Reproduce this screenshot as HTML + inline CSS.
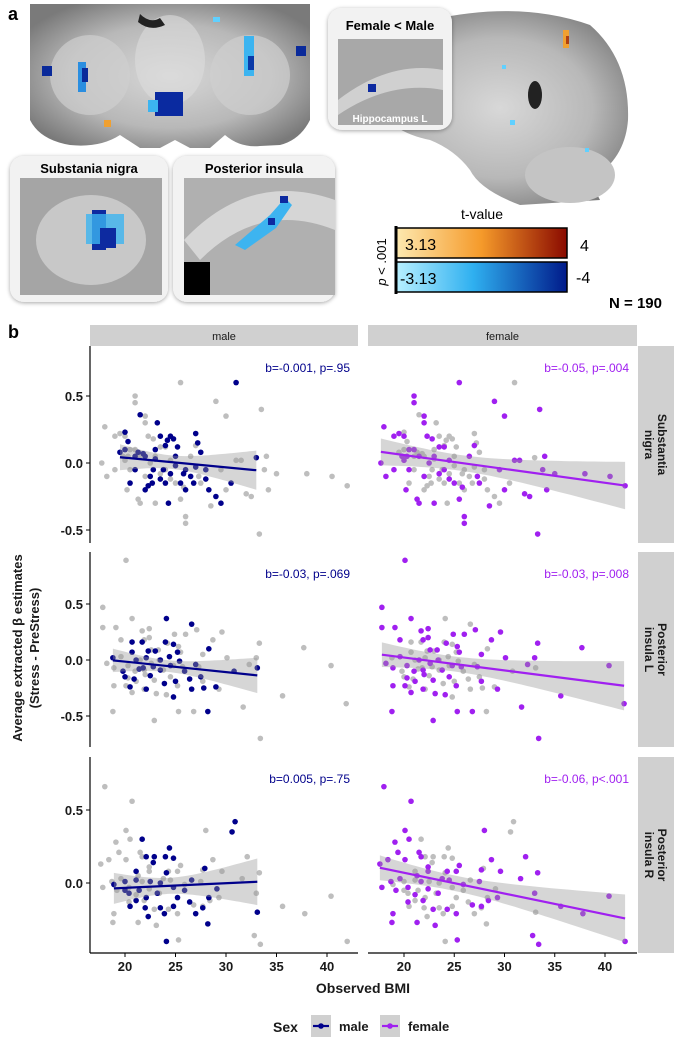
<!DOCTYPE html>
<html><head><meta charset="utf-8"><style>
html,body{margin:0;padding:0;background:#fff}
svg{display:block;font-family:"Liberation Sans",Arial,sans-serif}
</style></head><body>
<svg id="fig" width="675" height="1040" viewBox="0 0 675 1040" xmlns="http://www.w3.org/2000/svg">
<defs>
<radialGradient id="brainG" cx="50%" cy="50%" r="60%"><stop offset="0" stop-color="#d8d8d8"/><stop offset="0.6" stop-color="#b8b8b8"/><stop offset="1" stop-color="#7a7a7a"/></radialGradient>
<linearGradient id="hotG" x1="0" x2="1"><stop offset="0" stop-color="#fde9b0"/><stop offset="0.5" stop-color="#f59a2a"/><stop offset="1" stop-color="#8a0a00"/></linearGradient>
<linearGradient id="coldG" x1="0" x2="1"><stop offset="0" stop-color="#b8f0ff"/><stop offset="0.45" stop-color="#2fb0f0"/><stop offset="1" stop-color="#001a8a"/></linearGradient>
<filter id="sh" x="-10%" y="-10%" width="120%" height="120%"><feGaussianBlur in="SourceAlpha" stdDeviation="2"/><feOffset dy="1"/><feComponentTransfer><feFuncA type="linear" slope="0.35"/></feComponentTransfer><feMerge><feMergeNode/><feMergeNode in="SourceGraphic"/></feMerge></filter>
</defs>

<!-- Panel a -->
<g>
<text x="8" y="20" font-size="18" font-weight="bold">a</text>
<g>
<path d="M30,4 L310,4 L310,120 Q300,140 280,145 L260,146 Q240,148 225,135 L210,148 L190,148 L175,140 L160,148 L140,148 L120,135 Q100,148 70,145 Q40,140 30,120 Z" fill="url(#brainG)"/>
<ellipse cx="90" cy="75" rx="40" ry="40" fill="#cfcfcf" opacity="0.7"/>
<ellipse cx="250" cy="75" rx="40" ry="40" fill="#cfcfcf" opacity="0.7"/>
<ellipse cx="170" cy="60" rx="35" ry="45" fill="#dcdcdc" opacity="0.6"/>
<path d="M140,14 Q150,24 160,18 L165,25 Q150,32 138,22 Z" fill="#222"/>
<rect x="78" y="62" width="8" height="30" fill="#2a8ee0"/><rect x="82" y="68" width="6" height="14" fill="#0a2a9a"/>
<rect x="42" y="66" width="10" height="10" fill="#0a2a9a"/>
<rect x="244" y="36" width="10" height="40" fill="#3cb4f0"/><rect x="248" y="56" width="6" height="14" fill="#0a3aa8"/>
<rect x="296" y="46" width="10" height="10" fill="#0a2a9a"/>
<rect x="155" y="92" width="28" height="24" fill="#0a2aa0"/><rect x="148" y="100" width="10" height="12" fill="#3cb4f0"/>
<rect x="104" y="120" width="7" height="7" fill="#f0a030"/>
<rect x="213" y="17" width="7" height="5" fill="#60d0ff"/>
</g>
<g>
<path d="M430,20 Q520,0 590,25 Q630,60 628,120 Q625,160 590,180 L600,200 L520,205 Q480,190 470,170 Q455,150 430,140 Q380,130 372,90 Q375,40 430,20 Z" fill="url(#brainG)"/>
<ellipse cx="570" cy="175" rx="45" ry="28" fill="#c4c4c4"/>
<ellipse cx="535" cy="95" rx="7" ry="14" fill="#222"/>
<rect x="563" y="30" width="6" height="18" fill="#f0a030"/><rect x="566" y="36" width="3" height="8" fill="#b04010"/>
<rect x="502" y="65" width="4" height="4" fill="#60d0ff"/><rect x="510" y="120" width="5" height="5" fill="#60d0ff"/><rect x="585" y="148" width="4" height="4" fill="#60d0ff"/>
</g>
<g filter="url(#sh)">
<rect x="328" y="8" width="124" height="122" rx="14" fill="#f2f2f2"/>
<rect x="338" y="39" width="105" height="86" fill="#a8a8a8"/>
<path d="M338,100 Q390,60 443,70 L443,90 Q390,80 338,115 Z" fill="#d0d0d0"/>
<rect x="368" y="84" width="8" height="8" fill="#0a2aa0"/>
<text x="390" y="30" font-size="13" font-weight="bold" text-anchor="middle">Female &lt; Male</text>
<text x="390" y="122" font-size="10" font-weight="bold" fill="#fff" text-anchor="middle">Hippocampus L</text>
</g>
<g filter="url(#sh)">
<rect x="10" y="156" width="158" height="146" rx="14" fill="#f2f2f2"/>
<rect x="20" y="178" width="142" height="117" fill="#a5a5a5"/>
<ellipse cx="91" cy="240" rx="55" ry="45" fill="#c8c8c8"/>
<rect x="92" y="210" width="14" height="40" fill="#0a2aa0"/><rect x="86" y="214" width="38" height="30" fill="#3cb4f0" opacity="0.8"/><rect x="100" y="228" width="16" height="20" fill="#0a2aa0"/>
<text x="89" y="173" font-size="13" font-weight="bold" text-anchor="middle">Substania nigra</text>
</g>
<g filter="url(#sh)">
<rect x="173" y="156" width="162" height="146" rx="14" fill="#f2f2f2"/>
<rect x="184" y="178" width="151" height="117" fill="#b0b0b0"/>
<path d="M184,240 Q250,170 335,200 L335,230 Q260,200 200,260 Z" fill="#d6d6d6"/>
<rect x="184" y="262" width="26" height="33" fill="#000"/>
<path d="M235,245 L270,215 L285,198 L292,205 L276,228 L245,250 Z" fill="#3cb4f0"/>
<rect x="280" y="196" width="8" height="7" fill="#0a2aa0"/><rect x="268" y="218" width="7" height="7" fill="#0a2aa0"/>
<text x="254" y="173" font-size="13" font-weight="bold" text-anchor="middle">Posterior insula</text>
</g>
<g>
<text x="482" y="219" font-size="14" text-anchor="middle">t-value</text>
<rect x="396" y="228" width="171" height="30" fill="url(#hotG)" stroke="#000" stroke-width="1.5"/>
<rect x="396" y="262" width="171" height="30" fill="url(#coldG)" stroke="#000" stroke-width="1.5"/>
<line x1="396" y1="226" x2="396" y2="294" stroke="#000" stroke-width="3"/>
<text x="405" y="250" font-size="16">3.13</text>
<text x="400" y="284" font-size="16">-3.13</text>
<text x="580" y="251" font-size="16">4</text>
<text x="576" y="283" font-size="16">-4</text>
<text transform="translate(386,262) rotate(-90)" font-size="13" text-anchor="middle"><tspan font-style="italic">p</tspan> &lt; .001</text>
<text x="662" y="308" font-size="15" font-weight="bold" text-anchor="end">N = 190</text>
</g>
</g>

<!-- Panel b -->
<text x="8" y="338" font-size="18" font-weight="bold">b</text>
<g id="chart"></g>
</svg>
<script>
// ---- data (BMI, beta) per region row ----
const rowNames = ["Substantia\nnigra","Posterior\ninsula L","Posterior\ninsula R"];
const sexes = ["male","female"];
const xTicks = [20,25,30,35,40];
const yTicks = [[0.5,0,-0.5],[0.5,0,-0.5],[0.5,0]];
const statLabels = [["b=-0.001, p=.95","b=-0.05, p=.004"],["b=-0.03, p=.069","b=-0.03, p=.008"],["b=0.005, p=.75","b=-0.06, p<.001"]];

const maleBMI1 = [19.5,20,20.3,21.5,20.5,21,21.3,21.8,22,22.3,22.5,23,23.2,23.5,23.8,24,24.2,24.5,24.8,25,25.2,25.5,26,26.5,27,27.2,27.5,28,28.3,29,29.5,30.5,31,33,22.8,23.5,24,24.5,25.8,26.8,22,21,20,23,25,26,27,28,24.3,22.7];
const maleBeta1 = [0.08,0.23,0.16,0.36,-0.15,0.05,0.08,0.07,-0.2,-0.17,-0.1,0.03,0.3,0.2,-0.05,0.13,0.17,0.2,0.18,-0.02,0.12,-0.15,-0.2,-0.1,0.22,0.15,0.08,-0.12,-0.2,-0.25,-0.3,-0.15,0.6,0.04,-0.05,-0.12,-0.15,-0.08,-0.08,-0.15,0.05,-0.05,0.1,0.1,0.05,-0.05,-0.03,-0.05,-0.3,-0.15];
const femaleBMI1 = [17.7,18,18.2,19,19.5,20,20.5,21,21,20.3,19.8,20.2,21.3,21.5,22,22,22.3,22.8,23,23.5,24,24.5,25,25.5,25.5,25.8,26,26,27,27.3,27.5,28.5,29,29.5,30,30,31,31.5,32,32.5,33.3,33.5,33.8,34,34.2,35,38,40.5,42,21.5,22.5,23,24,20.5,19,22,23.5,24.5,26.5,21,20];
const femaleBeta1 = [0,0.27,-0.1,0.2,0.22,0.2,0.1,0.5,0.45,0.05,0.05,-0.2,-0.27,-0.3,0.35,0.3,0.2,0.18,-0.3,0.12,0.12,-0.12,-0.15,0.6,-0.27,-0.18,-0.4,-0.45,0.13,-0.1,-0.15,-0.32,0.46,-0.05,0.35,-0.2,0.02,0.02,-0.23,-0.25,-0.53,0.4,-0.05,0.05,-0.2,-0.08,-0.08,-0.1,-0.17,0.05,0,0.05,-0.05,-0.05,-0.05,-0.1,-0.08,0.02,0.05,0.1,0.02];

const maleBMI2 = [24.1,26.6,20.7,21.7,24.0,24.8,28.3,20.7,23.0,24.4,18.8,21.1,22.1,23.5,25.4,27.0,30.8,33.1,20.0,20.9,22.5,23.9,25.0,26.4,27.5,20.5,22.1,24.8,26.6,27.8,29.0,28.2,21.8,22.8,24.5,25.9,19.8,21.4,25.2,22.3,23.5];
const maleBeta2 = [0.37,0.32,0.16,0.16,0.16,0.14,0.1,0.07,0.08,0.03,0.02,0,0.02,0,-0.01,-0.04,-0.1,-0.07,-0.15,-0.17,-0.14,-0.21,-0.19,-0.17,-0.15,-0.24,-0.26,-0.33,-0.26,-0.25,-0.24,-0.46,-0.07,-0.06,-0.05,-0.1,-0.1,-0.08,0.07,0.08,-0.09];
const femaleBMI2 = [20.1,17.8,20.7,17.8,19.1,21.7,22.4,24.9,26.0,27.1,29.6,28.7,19.6,21.9,22.4,24.2,25.3,33.3,37.7,30.1,33.0,40.4,41.9,35.6,31.7,33.4,22.9,25.3,26.8,18.8,29.3,24.1,20.7,21.9,23.1,18.9,20.1,25.2,27.7,32.3,27.7,25.5,18.2,18.9,19.6,20.3,21.0,21.5,22.0,22.6,22.9,23.4,23.8,24.5,24.8,25.7,20.3,21.1,21.9,23.3,22.6,27.3];
const femaleBeta2 = [0.89,0.47,0.37,0.29,0.29,0.26,0.28,0.23,0.23,0.27,0.25,0.18,0.18,0.18,0.2,0.15,0.12,0.15,0.11,0.02,0.02,-0.05,-0.39,-0.32,-0.42,-0.7,-0.54,-0.46,-0.46,-0.46,-0.26,-0.31,-0.29,-0.26,-0.3,-0.23,-0.23,-0.23,-0.19,-0.04,0.05,0.07,-0.03,-0.07,0.03,-0.05,-0.1,0,-0.13,-0.03,-0.18,0,-0.09,-0.15,-0.05,-0.06,-0.16,-0.19,-0.09,0.09,0.09,-0.06];

const maleBMI3 = [30.9,30.6,21.7,22.1,22.9,24.0,24.8,22.8,24.4,27.9,21.1,24.1,26.6,29.1,33.1,28.2,24.1,22.3,23.9,27.0,20.5,22.0,23.5,24.8,27.7,21.1,22.1,25.2,26.4,28.3,18.9,20.0,21.1,22.5,23.5,24.8,20.0,21.4,23.2,25.9,20.4];
const maleBeta3 = [0.42,0.35,0.3,0.18,0.18,0.18,0.17,0.14,0.24,0.1,0.08,0.07,0.02,-0.04,-0.2,-0.28,-0.4,-0.23,-0.21,-0.21,-0.16,-0.17,-0.17,-0.16,-0.17,-0.12,-0.1,-0.1,-0.13,-0.1,-0.01,0.01,0.02,0.01,0,-0.03,-0.05,-0.05,-0.07,-0.05,-0.07];
const femaleBMI3 = [18.0,20.7,20.1,20.5,28.0,19.1,19.4,21.5,21.7,20.1,22.4,17.6,18.4,32.1,28.7,29.6,33.3,31.6,27.7,25.5,25.2,24.3,27.5,25.9,40.4,33.0,35.6,37.8,42.0,33.4,32.8,25.3,18.8,18.9,21.3,23.1,28.4,26.8,25.2,24.3,22.9,21.9,20.4,21.1,17.8,18.7,19.6,20.4,22.4,23.4,24.5,21.7,21.3,23.8,29.3,27.7,22.4,19.2];
const femaleBeta3 = [0.66,0.56,0.36,0.3,0.36,0.28,0.21,0.21,0.18,0.16,0.08,0.13,0.16,0.18,0.16,0.08,0.07,0.03,0.09,0.12,0.08,0.08,0.01,-0.01,-0.09,-0.07,-0.16,-0.21,-0.4,-0.42,-0.36,-0.39,-0.27,-0.21,-0.27,-0.29,-0.12,-0.15,-0.21,-0.18,-0.18,-0.12,-0.13,-0.08,-0.03,0.01,0.03,-0.03,-0.04,-0.07,0.02,0.01,0.05,0.03,-0.1,-0.16,0.11,-0.05];

const dataBMI = [[maleBMI1,femaleBMI1],[maleBMI2,femaleBMI2],[maleBMI3,femaleBMI3]];
const dataBeta = [[maleBeta1,femaleBeta1],[maleBeta2,femaleBeta2],[maleBeta3,femaleBeta3]];

// ---- layout ----
const NS="http://www.w3.org/2000/svg";
const chart=document.getElementById('chart');
const colors=["#00008b","#a020f0"];
const rowsL=[{top:346,bot:543,zero:463,ppu:134},{top:552,bot:747,zero:660,ppu:112},{top:757,bot:953,zero:883,ppu:146}];
const cols=[{x0:90,x1:358,a:125,ppu:10.1},{x0:368,x1:637,a:404,ppu:10.05}];
function xs(c,v){return cols[c].a+(v-20)*cols[c].ppu;}
function ys(r,v){return rowsL[r].zero-v*rowsL[r].ppu;}
function mk(tag,attrs,parent){const e=document.createElementNS(NS,tag);for(const k in attrs)e.setAttribute(k,attrs[k]);(parent||chart).appendChild(e);return e;}

// strips top
sexes.forEach((s,c)=>{
  const g=mk('g',{});
  
  
  mk('rect',{x:cols[c].x0,y:325,width:cols[c].x1-cols[c].x0,height:21,fill:'#d0d0d0'},g);
  const t=mk('text',{x:(cols[c].x0+cols[c].x1)/2,y:340,'font-size':11,'text-anchor':'middle',fill:'#1a1a1a'},g);
  t.textContent=s;
});

rowsL.forEach((R,r)=>{
  // right strip
  const sg=mk('g',{});
  
  
  mk('rect',{x:638,y:R.top,width:36,height:R.bot-R.top,fill:'#d0d0d0'},sg);
  const lines=rowNames[r].split('\n');
  const cy=(R.top+R.bot)/2;
  lines.forEach((ln,i)=>{
    const t=mk('text',{transform:`translate(${652-i*13+6},${cy}) rotate(90)`,'font-size':12,'font-weight':'bold','text-anchor':'middle',fill:'#1a1a1a'},sg);
    t.textContent=ln;
  });
  // y axis
  const ax=mk('g',{});
  
  
  mk('line',{x1:90,y1:R.top,x2:90,y2:R.bot,stroke:'#000','stroke-width':1.2},ax);
  yTicks[r].forEach(v=>{
    const y=ys(r,v);
    mk('line',{x1:86,y1:y,x2:90,y2:y,stroke:'#000'},ax);
    const t=mk('text',{x:83,y:y+5,'font-size':13,'font-weight':'bold','text-anchor':'end',fill:'#1a1a1a'},ax);
    t.textContent=v.toFixed(1);
  });
  cols.forEach((C,c)=>{
    const pg=mk('g',{});
    
    
    const other=1-c;
    // gray points of other sex
    dataBMI[r][other].forEach((b,i)=>{
      const p=mk('circle',{cx:xs(c,b),cy:ys(r,dataBeta[r][other][i]),r:2.8,fill:'#bebebe'},pg);
      
      
    });
    const X=dataBMI[r][c],Y=dataBeta[r][c];
    X.forEach((b,i)=>{
      const p=mk('circle',{cx:xs(c,b),cy:ys(r,Y[i]),r:2.8,fill:colors[c]},pg);
      
      
    });
    // OLS fit
    const n=X.length,mx=X.reduce((a,b)=>a+b)/n,my=Y.reduce((a,b)=>a+b)/n;
    let sxx=0,sxy=0;X.forEach((x,i)=>{sxx+=(x-mx)**2;sxy+=(x-mx)*(Y[i]-my);});
    const slope=sxy/sxx,ic=my-slope*mx;
    let sse=0;X.forEach((x,i)=>{sse+=(Y[i]-ic-slope*x)**2;});
    const s=Math.sqrt(sse/(n-2));
    const xmin=Math.min(...X),xmax=Math.max(...X);
    const up=[],lo=[];
    for(let k=0;k<=40;k++){
      const x=xmin+(xmax-xmin)*k/40;
      const hw=1.98*s*Math.sqrt(1/n+(x-mx)**2/sxx);
      const f=ic+slope*x;
      up.push(xs(c,x).toFixed(1)+','+ys(r,f+hw).toFixed(1));
      lo.unshift(xs(c,x).toFixed(1)+','+ys(r,f-hw).toFixed(1));
    }
    const band=mk('polygon',{points:up.concat(lo).join(' '),fill:'#999','fill-opacity':0.4},pg);
    
    
    const ln=mk('line',{x1:xs(c,xmin),y1:ys(r,ic+slope*xmin),x2:xs(c,xmax),y2:ys(r,ic+slope*xmax),stroke:colors[c],'stroke-width':2.2},pg);
    
    
    const st=mk('text',{x:C.x1-8,y:R.top+26,'font-size':12,'text-anchor':'end',fill:colors[c]},pg);
    
    
    st.textContent=statLabels[r][c];
  });
});

// x axes
cols.forEach((C,c)=>{
  const ax=mk('g',{});
  
  
  mk('line',{x1:C.x0,y1:953,x2:C.x1,y2:953,stroke:'#000','stroke-width':1.2},ax);
  xTicks.forEach(v=>{
    const x=xs(c,v);
    mk('line',{x1:x,y1:953,x2:x,y2:957,stroke:'#000'},ax);
    const t=mk('text',{x:x,y:971,'font-size':13,'font-weight':'bold','text-anchor':'middle',fill:'#1a1a1a'},ax);
    t.textContent=v;
  });
});
const xt=mk('text',{x:363,y:993,'font-size':14,'font-weight':'bold','text-anchor':'middle',fill:'#1a1a1a'});


xt.textContent='Observed BMI';
const yt1=mk('text',{transform:'translate(22,648) rotate(-90)','font-size':13,'font-weight':'bold','text-anchor':'middle',fill:'#1a1a1a'});


yt1.textContent='Average extracted β estimates';
const yt2=mk('text',{transform:'translate(39,648) rotate(-90)','font-size':13,'font-weight':'bold','text-anchor':'middle',fill:'#1a1a1a'});


yt2.textContent='(Stress - PreStress)';

// legend
const lg=mk('g',{});


const lt=mk('text',{x:273,y:1032,'font-size':14,'font-weight':'bold',fill:'#1a1a1a'},lg);
lt.textContent='Sex';
sexes.forEach((s,i)=>{
  const kx=i===0?311:380;
  const e=mk('g',{},lg);
  
  
  mk('rect',{x:kx,y:1015,width:20,height:22,fill:'#d0d0d0'},e);
  mk('line',{x1:kx+2,y1:1026,x2:kx+18,y2:1026,stroke:colors[i],'stroke-width':2.2},e);
  mk('circle',{cx:kx+10,cy:1026,r:2.8,fill:colors[i]},e);
  const t=mk('text',{x:kx+28,y:1031,'font-size':13,'font-weight':'bold',fill:'#1a1a1a'},e);
  t.textContent=s;
});
</script>
</body></html>
